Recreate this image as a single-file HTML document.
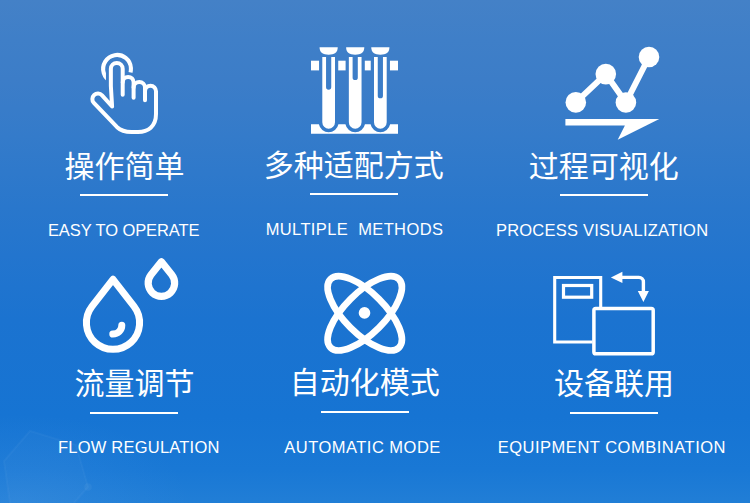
<!DOCTYPE html>
<html lang="zh-CN">
<head>
<meta charset="utf-8">
<title>产品特点</title>
<style>
html,body{margin:0;padding:0;}
body{width:750px;height:503px;overflow:hidden;position:relative;background:#2a78d0;font-family:"Liberation Sans",sans-serif;}
.bg{position:absolute;left:0;top:0;width:750px;height:503px;
background:radial-gradient(ellipse 170px 90px at 20px 503px, rgba(140,195,255,0.10), rgba(140,195,255,0) 100%),linear-gradient(to bottom,rgb(68,129,199) 0.00%,rgb(63,127,200) 7.95%,rgb(60,125,200) 15.90%,rgb(52,123,202) 27.24%,rgb(41,119,204) 41.35%,rgb(35,117,206) 50.70%,rgb(27,115,208) 63.62%,rgb(22,116,211) 82.70%,rgb(25,120,213) 93.44%,rgb(33,126,214) 100.00%);}
svg{position:absolute;left:0;top:0;}
.cn{font-family:"Liberation Sans","Noto Sans CJK SC",sans-serif;font-size:30px;fill:#fff;}
.en{font-family:"Liberation Sans",sans-serif;font-size:16.5px;fill:#fff;}
</style>
</head>
<body>
<div class="bg"></div>
<svg width="750" height="503" viewBox="0 0 750 503" fill="#fff">
<g id="bg-net" fill="none" stroke="#fff" stroke-opacity="0.03" stroke-width="2">
<path fill="#fff" fill-opacity="0.018" d="M10 503L4 461L30 431L76 445L88 487L74 503"/>
<circle cx="88" cy="487" r="3.8" fill="#fff" fill-opacity="0.045" stroke="none"/>
</g>
<g id="icon-tap" fill="none" stroke="#fff" stroke-width="4" stroke-linecap="round" stroke-linejoin="round">
<mask id="tapmask" maskUnits="userSpaceOnUse" x="90" y="40" width="80" height="100">
<rect x="90" y="40" width="80" height="100" fill="#fff" stroke="none"/>
<path d="M122.7 94.8 L122.7 68.8 A5.92 5.92 0 0 0 110.86 68.8 L110.86 86 L112.1 106.5 L102.06 95.35 A5.6 5.6 0 0 0 93.86 102.98 L117.1 127.2 Q122 131.9 131.5 131.9 L138 131.9 C148 131.9 156 126.5 156 114 L156 91.2 A5.5 5.5 0 0 0 145 91.2" stroke="#000" stroke-width="9.8"/>
<path d="M133.6 97.8 L133.6 82.35 A5.45 5.45 0 0 0 122.7 82.35" stroke="#000" stroke-width="9.8"/>
</mask>
<path mask="url(#tapmask)" stroke-width="4.1" stroke-linecap="butt" d="M111.18 81.45 A13.9 13.9 0 1 1 126.88 78.68"/>
<path d="M122.7 94.8 L122.7 68.8 A5.92 5.92 0 0 0 110.86 68.8 L110.86 86 L112.1 106.5 L102.06 95.35 A5.6 5.6 0 0 0 93.86 102.98 L117.1 127.2 Q122 131.9 131.5 131.9 L138 131.9 C148 131.9 156 126.5 156 114 L156 91.2 A5.5 5.5 0 0 0 145 91.2"/>
<path d="M145 100.3 L145 87.6 A5.7 5.7 0 0 0 133.6 87.6"/>
<path d="M133.6 97.8 L133.6 82.35 A5.45 5.45 0 0 0 122.7 82.35"/>
</g>
<g id="icon-tubes" fill="#fff">
<path d="M319.55 47.3H337.75C337.75 52.6 334.25 54.7 328.65 54.7C323.05 54.7 319.55 52.6 319.55 47.3Z"/>
<path d="M346.10 47.3H364.30C364.30 52.6 360.80 54.7 355.20 54.7C349.60 54.7 346.10 52.6 346.10 47.3Z"/>
<path d="M371.25 47.3H389.45C389.45 52.6 385.95 54.7 380.35 54.7C374.75 54.7 371.25 52.6 371.25 47.3Z"/>
<rect x="311.00" y="60.7" width="8.05" height="9.7"/>
<rect x="338.25" y="60.7" width="7.35" height="9.7"/>
<rect x="364.80" y="60.7" width="5.95" height="9.7"/>
<rect x="389.95" y="60.7" width="8.05" height="9.7"/>
<path d="M311 124.3H318.89A9.95 9.95 0 0 0 338.41 124.3H345.44A9.95 9.95 0 0 0 364.96 124.3H370.59A9.95 9.95 0 0 0 390.11 124.3H398V133.7H311Z"/>
<path fill-rule="evenodd" d="M322.30 56.9H335.00V122.35A6.35 6.35 0 0 1 322.30 122.35ZM326.05 56.9V87.10A2.6 2.6 0 0 0 331.25 87.10V56.9Z"/>
<path fill-rule="evenodd" d="M348.85 56.9H361.55V122.35A6.35 6.35 0 0 1 348.85 122.35ZM352.60 56.9V77.40A2.6 2.6 0 0 0 357.80 77.40V56.9Z"/>
<path fill-rule="evenodd" d="M374.00 56.9H386.70V122.35A6.35 6.35 0 0 1 374.00 122.35ZM377.75 56.9V95.70A2.6 2.6 0 0 0 382.95 95.70V56.9Z"/>
</g>
<g id="icon-chart" fill="#fff">
<polyline fill="none" stroke="#fff" stroke-width="6" points="575.8,102.4 605.8,74.1 625.9,102.5 649.0,57.0"/>
<circle cx="575.8" cy="102.4" r="10.3"/>
<circle cx="605.8" cy="74.1" r="10.3"/>
<circle cx="625.9" cy="102.5" r="10.3"/>
<circle cx="649.0" cy="57.0" r="10.3"/>
<path d="M565.4 118.9H659.3L617.7 139.7L624.9 125.6H565.4Z"/>
</g>
<g id="icon-drops" fill="none" stroke="#fff" stroke-linejoin="round" stroke-linecap="round">
<path stroke-width="7" d="M113.00 279.30L134.03 306.47A26.6 26.6 0 1 1 91.97 306.47Z"/>
<path stroke-width="7.2" d="M161.40 261.70L171.79 274.83A13.25 13.25 0 1 1 151.01 274.83Z"/>
<path stroke-width="7" d="M121.8 325.2C121.8 330.3 118 333.8 112.8 334"/>
</g>
<g id="icon-atom" fill="none" stroke="#fff" stroke-width="6.7">
<path transform="translate(364.75 313.3) rotate(45)" d="M48.4 0C48.4 11.16 26.73 20.2 0 20.2C-26.73 20.2 -48.4 11.16 -48.4 0C-48.4 -11.16 -26.73 -20.2 0 -20.2C26.73 -20.2 48.4 -11.16 48.4 0Z"/>
<path transform="translate(364.75 313.3) rotate(-45)" d="M48.4 0C48.4 11.16 26.73 20.2 0 20.2C-26.73 20.2 -48.4 11.16 -48.4 0C-48.4 -11.16 -26.73 -20.2 0 -20.2C26.73 -20.2 48.4 -11.16 48.4 0Z"/>
<circle cx="364.5" cy="312.9" r="5.8" fill="#fff" stroke="none"/>
</g>
<g id="icon-combine" fill="none" stroke="#fff">
<path stroke-width="3.1" d="M600.7 307V277.5H554.7V342H592.5"/>
<rect stroke-width="3.2" x="563.5" y="285.5" width="28.2" height="11.7"/>
<rect stroke-width="3.5" x="593.9" y="308.45" width="59.3" height="45.4" rx="1.9"/>
<path stroke-width="3.4" d="M621 277.4H638.9A4.5 4.5 0 0 1 643.4 281.9V292"/>
<path fill="#fff" stroke="none" d="M610.9 277.4L622.4 271.7V283.1ZM643.4 302L637.8 291H648.9Z"/>
</g>
<g id="text-outlines">
<text class="cn" x="124.5" y="176.5" text-anchor="middle">操作简单</text>
<rect x="80.0" y="194.00" width="88.0" height="2.0"/>
<text class="en" x="123.7" y="235.8" text-anchor="middle" textLength="151.5" lengthAdjust="spacing">EASY TO OPERATE</text>
<text class="cn" x="353.7" y="175.5" text-anchor="middle">多种适配方式</text>
<rect x="310.0" y="193.00" width="88.0" height="2.0"/>
<text class="en" x="354.3" y="234.8" text-anchor="middle" textLength="177.3" lengthAdjust="spacing" xml:space="preserve">MULTIPLE  METHODS</text>
<text class="cn" x="603.8" y="176.5" text-anchor="middle">过程可视化</text>
<rect x="560.0" y="194.00" width="88.0" height="2.0"/>
<text class="en" x="602" y="235.8" text-anchor="middle" textLength="212.1" lengthAdjust="spacing">PROCESS VISUALIZATION</text>
<text class="cn" x="134.6" y="394.4" text-anchor="middle">流量调节</text>
<rect x="90.0" y="412.00" width="88.0" height="2.0"/>
<text class="en" x="138.7" y="453" text-anchor="middle" textLength="161.3" lengthAdjust="spacing">FLOW REGULATION</text>
<text class="cn" x="364.8" y="393.4" text-anchor="middle">自动化模式</text>
<rect x="321.0" y="411.00" width="88.0" height="2.0"/>
<text class="en" x="362.3" y="452.9" text-anchor="middle" textLength="156" lengthAdjust="spacing">AUTOMATIC MODE</text>
<text class="cn" x="613.9" y="394.3" text-anchor="middle">设备联用</text>
<rect x="570.0" y="412.00" width="88.0" height="2.0"/>
<text class="en" x="611.6" y="453.4" text-anchor="middle" textLength="227.8" lengthAdjust="spacing">EQUIPMENT COMBINATION</text>
</g>
</svg>
</body>
</html>
